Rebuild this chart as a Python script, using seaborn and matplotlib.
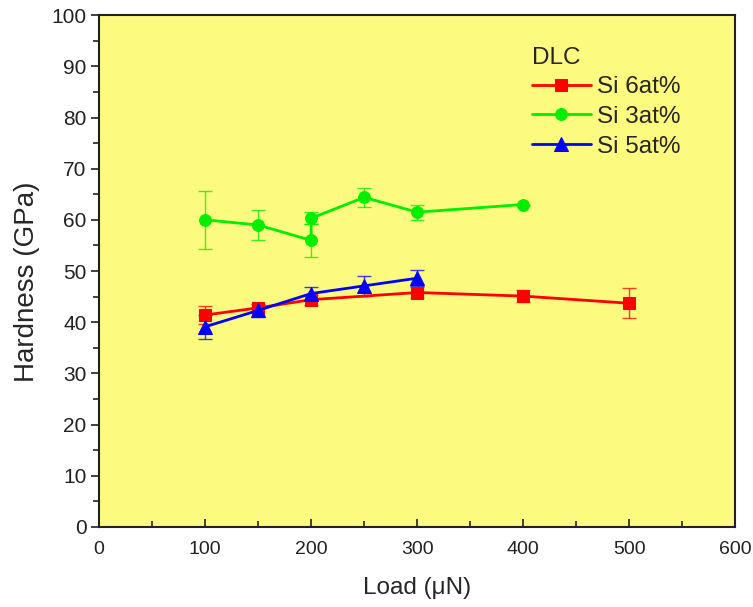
import numpy as np
import pandas as pd
import matplotlib
matplotlib.use("Agg")
import matplotlib.pyplot as plt
import seaborn as sns

# Data
load_si6 = [100, 150, 200, 300, 400, 500]
hard_si6 = [41.4, 42.8, 44.4, 45.8, 45.1, 43.7]
err_si6 = [1.8, 0.0, 1.0, 1.0, 1.2, 2.9]

load_si3 = [100, 150, 200, 200, 250, 300, 400]
hard_si3 = [60.0, 59.0, 56.0, 60.3, 64.4, 61.5, 63.0]
err_si3 = [5.6, 3.0, 3.2, 1.2, 1.8, 1.5, 0.0]

load_si5 = [100, 150, 200, 250, 300]
hard_si5 = [39.1, 42.3, 45.6, 47.1, 48.6]
err_si5 = [2.3, 1.3, 1.2, 2.0, 1.6]

labels = ["Si 6at%", "Si 3at%", "Si 5at%"]

sns.set_theme(style="ticks")
plt.rcParams['font.family'] = ['Liberation Sans', 'DejaVu Sans']

fig = plt.figure(figsize=(7.53, 6.07), dpi=100)
ax = fig.add_axes([0.1315, 0.132, 0.845, 0.843])
ax.set_facecolor('#FDFA80')

series = [
    (load_si6, hard_si6, err_si6, labels[0], '#FF0000', 's', 8),
    (load_si3, hard_si3, err_si3, labels[1], '#00EE00', 'o', 8.5),
    (load_si5, hard_si5, err_si5, labels[2], '#0000FF', '^', 9.5),
]

for x, y, e, lab, col, mk, ms in series:
    ax.errorbar(x, y, yerr=e, fmt='none', ecolor=col, elinewidth=1.0,
                capsize=5, capthick=1.0, alpha=0.75, zorder=2)
    df = pd.DataFrame({'Load': x, 'Hardness': y})
    sns.lineplot(data=df, x='Load', y='Hardness', ax=ax, sort=False,
                 estimator=None, color=col, marker=mk, markersize=ms,
                 markeredgecolor=col, linewidth=2.0, label=lab, zorder=3)

ax.set_xlim(0, 600)
ax.set_ylim(0, 100)
ax.set_xticks(np.arange(0, 601, 100))
ax.set_xticks(np.arange(50, 600, 100), minor=True)
ax.set_yticks(np.arange(0, 101, 10))
ax.set_yticks(np.arange(5, 100, 10), minor=True)
ax.tick_params(axis='x', which='major', direction='in', length=6, width=1.2,
               labelsize=14, pad=10, colors='#222222')
ax.tick_params(axis='x', which='minor', direction='in', length=4, width=1.2)
ax.tick_params(axis='y', which='major', direction='out', length=6, width=1.2,
               labelsize=15, pad=3, colors='#222222')
ax.tick_params(axis='y', which='minor', direction='out', length=4, width=1.2)
for s in ax.spines.values():
    s.set_linewidth(1.5)
    s.set_color('#222222')

ax.set_xlabel('Load (μN)', fontsize=17.5, labelpad=14)
ax.set_ylabel('Hardness (GPa)', fontsize=20, labelpad=8)
ax.yaxis.label.set_y(0.48)

leg = ax.legend(title='DLC', loc='upper left', bbox_to_anchor=(0.681, 0.938),
                frameon=False, fontsize=17.5, title_fontsize=17.5,
                handlelength=2.4, handletextpad=0.25, labelspacing=0.31,
                borderpad=0, borderaxespad=0, alignment='left')

fig.savefig('out.png', dpi=100)
